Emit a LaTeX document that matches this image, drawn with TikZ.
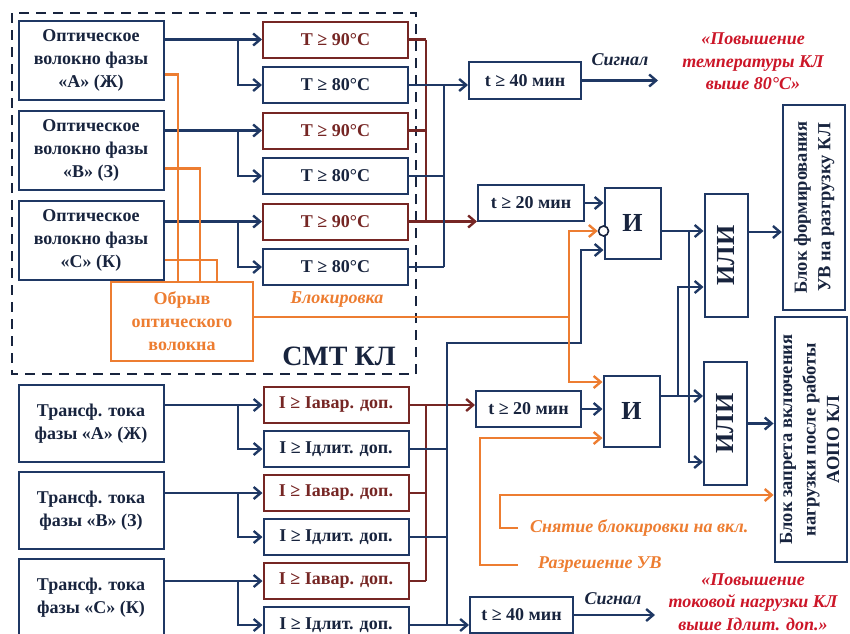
\documentclass[tikz,border=0pt]{standalone}
\usepackage{fontspec}
\setmainfont{Liberation Serif}
\usepackage{graphicx}
\usetikzlibrary{arrows.meta, positioning, calc}
\definecolor{smtNavy}{RGB}{31,56,100}
\definecolor{smtInk}{RGB}{24,36,62}
\definecolor{smtMaroon}{RGB}{118,38,36}
\definecolor{smtOrange}{RGB}{237,125,49}
\definecolor{smtRed}{RGB}{204,22,40}

\begin{document}
\begin{tikzpicture}[x=1pt, y=-1pt,
box/.style={rectangle, draw=smtNavy, line width=2pt, fill=white, text=smtInk,
  align=center, inner sep=1pt, font=\bfseries\fontsize{18}{23}\selectfont},
sensor/.style={box, minimum width=145pt, minimum height=79pt},
relay/.style={box, minimum width=145pt, minimum height=36pt},
hot/.style={draw=smtMaroon, text=smtMaroon},
timer/.style={box, minimum height=36.5pt},
gate/.style={box, minimum width=56pt, minimum height=71pt,
  font=\bfseries\fontsize{26}{30}\selectfont},
orgate/.style={box, minimum width=43pt, minimum height=123pt,
  font=\bfseries\fontsize{26}{30}\selectfont},
unit/.style={box, line width=2.4pt, font=\bfseries\fontsize{18.5}{23.5}\selectfont},
note/.style={font=\bfseries\itshape\fontsize{18}{22.5}\selectfont, align=center, inner sep=0pt},
arrow/.style={-{Straight Barb[length=7pt,width=12pt]}, line width=2.4pt, color=smtNavy},
arrowR/.style={arrow, color=smtMaroon},
arrowO/.style={arrow, color=smtOrange},
wire/.style={line width=2.4pt, color=smtNavy},
wireR/.style={wire, color=smtMaroon},
wireO/.style={wire, color=smtOrange}]
\useasboundingbox (0,0) rectangle (850,633);
\draw[smtInk, line width=2.6pt, dash pattern=on 10pt off 7pt] (12,13) rectangle (416,374);
\node[font=\bfseries\fontsize{28}{30}\selectfont, text=smtInk] (smt) at (339,356) {СМТ КЛ};

\node[sensor] (fibA) at (91,60.5) {Оптическое\\волокно фазы\\«А» (Ж)};
\node[sensor, below=9pt of fibA] (fibB) {Оптическое\\волокно фазы\\«В» (З)};
\node[sensor, below=9pt of fibB] (fibC) {Оптическое\\волокно фазы\\«С» (К)};
\node[box, draw=smtOrange, text=smtOrange, minimum width=142pt, minimum height=79pt]
  (cut) at (182,321.5) {Обрыв\\оптического\\волокна};

\node[relay, hot] (t90a) at (335.5,39.5) {T ≥ 90°C};
\node[relay, below=7.5pt of t90a] (t80a) {T ≥ 80°C};
\node[relay, hot, below=7.5pt of t80a] (t90b) {T ≥ 90°C};
\node[relay, below=7.5pt of t90b] (t80b) {T ≥ 80°C};
\node[relay, hot, below=7.5pt of t80b] (t90c) {T ≥ 90°C};
\node[relay, below=7.5pt of t90c] (t80c) {T ≥ 80°C};

\node[sensor, minimum height=77pt] (ctA) at (91,423.5) {Трансф. тока\\фазы «А» (Ж)};
\node[sensor, minimum height=77pt, below=8pt of ctA] (ctB) {Трансф. тока\\фазы «В» (З)};
\node[sensor, minimum height=77pt, below=8pt of ctB] (ctC) {Трансф. тока\\фазы «С» (К)};

\node[relay, hot] (iavA) at (336,405) {I ≥ Iавар. доп.};
\node[relay, below=6pt of iavA] (idlA) {I ≥ Iдлит. доп.};
\node[relay, hot, below=6pt of idlA] (iavB) {I ≥ Iавар. доп.};
\node[relay, below=6pt of iavB] (idlB) {I ≥ Iдлит. доп.};
\node[relay, hot, below=6pt of idlB] (iavC) {I ≥ Iавар. доп.};
\node[relay, below=6pt of iavC] (idlC) {I ≥ Iдлит. доп.};

\node[timer, minimum width=112pt] (t40a) at (525,80.5) {t ≥ 40 мин};
\node[timer, minimum width=106pt] (t20a) at (531,203) {t ≥ 20 мин};
\node[timer, minimum width=105pt] (t20b) at (528.5,409) {t ≥ 20 мин};
\node[timer, minimum width=103pt] (t40b) at (521.5,615) {t ≥ 40 мин};

\node[gate] (and1) at (632.5,223) {И};
\node[gate] (and2) at (631.5,411) {И};
\node[orgate] (or1) at (726,255.5) {\rotatebox{90}{ИЛИ}};
\node[orgate] (or2) at (725.5,423.5) {\rotatebox{90}{ИЛИ}};
\node[unit, minimum width=62pt, minimum height=205pt] (form) at (814,207.5)
  {\rotatebox{90}{\begin{tabular}{@{}c@{}}Блок формирования\\УВ на разгрузку КЛ\end{tabular}}};
\node[unit, minimum width=72pt, minimum height=245pt] (ban) at (811,439.5)
  {\rotatebox{90}{\begin{tabular}{@{}c@{}}Блок запрета включения\\нагрузки после работы\\АОПО КЛ\end{tabular}}};

\node[note, text=smtInk] (sigA) at (620,60) {Сигнал};
\node[note, text=smtInk] (sigB) at (613,599) {Сигнал};
\node[note, text=smtRed] (hotT) at (753,61.5) {«Повышение\\температуры КЛ\\выше 80°С»};
\node[note, text=smtRed] (hotI) at (753,602) {«Повышение\\токовой нагрузки КЛ\\выше Iдлит. доп.»};
\node[note, text=smtOrange] (lock) at (337,300) {Блокировка};
\node[note, text=smtOrange, anchor=west, inner xsep=12pt] (unlock) at (518,528) {Снятие блокировки на вкл.};
\node[note, text=smtOrange, anchor=west, inner xsep=20pt] (permit) at (518,565) {Разрешение УВ};

\coordinate (split) at (238,0);
\coordinate (busH) at (426,0);
\coordinate (busL) at (444,0);
\coordinate (busI) at (447,343);
\coordinate (jog) at (581,343);
\coordinate (blk) at (569,317);
\coordinate (splitA) at (689,0);
\coordinate (splitB) at (678,0);
\coordinate (freeUp) at (500,495);
\coordinate (freeDn) at (480,438);
\coordinate (outT) at (658,80.5);
\coordinate (outI) at (655,615);

\foreach \src/\hi/\lo in {fibA/t90a/t80a, fibB/t90b/t80b, fibC/t90c/t80c,
    ctA/iavA/idlA, ctB/iavB/idlB, ctC/iavC/idlC}{
  \draw[arrow] (\src.east |- \hi) -- (\hi);
  \draw[arrow] (split |- \hi) |- (\lo);
}

\foreach \hi in {t90a, t90b, iavB, iavC}
  \draw[wireR] (\hi.east) -- (\hi.east -| busH);
\draw[wireR] (busH |- t90a) -- (busH |- t90c);
\draw[wireR] (busH |- iavA) -- (busH |- iavC);
\draw[arrowR] (t90c.east) -- (t90c -| t20a.west);
\draw[arrowR] (iavA.east) -- (iavA -| t20b.west);

\foreach \lo in {t80b, t80c}
  \draw[wire] (\lo.east) -- (\lo.east -| busL);
\draw[wire] (busL |- t80a) -- (busL |- t80c);
\draw[arrow] (t80a.east) -- (t80a -| t40a.west);
\draw[arrow] (t40a.east) -- (outT);

\foreach \lo in {idlA, idlB}
  \draw[wire] (\lo.east) -- (\lo.east -| busI);
\draw[arrow] (idlC.east) -- (idlC -| t40b.west);
\draw[arrow] (t40b.east) -- (outI);
\draw[arrow] (busI |- idlC) -- (busI) -- (jog) |- ($(and1.west)+(0,27)$);

\draw[wireO] ($(fibA.east)+(0,14)$) -| ([xshift=-4pt]cut.north);
\draw[wireO] ($(fibB.east)+(0,18)$) -| ([xshift=18pt]cut.north);
\draw[wireO] ($(fibC.east)+(0,19.5)$) -| ([xshift=35pt]cut.north);
\draw[wireO] (cut.east |- blk) -- (blk);
\node[circle, draw=smtInk, fill=white, line width=1.6pt, inner sep=0pt, minimum size=10pt]
  (neg) at ($(and1.west)+(0,8)$) {};
\draw[arrowO] (blk) |- (neg.west);
\draw[arrowO] (blk) |- ($(and2.west)+(0,-29)$);
\draw[arrowO] (unlock.west) -| (freeUp) -- (freeUp -| ban.west);
\draw[arrowO] (permit.west) -| (freeDn) -- (freeDn -| and2.west);

\draw[arrow] (t20a.east) -- (t20a.east -| and1.west);
\draw[arrow] (t20b.east) -- (t20b.east -| and2.west);
\draw[arrow] ($(and1.east)+(0,8)$) -- ($(or1.west)+(0,-24.5)$);
\draw[arrow] (splitA |- or1.west) ++(0,-24.5) |- ($(or2.west)+(0,38.5)$);
\draw[arrow] ($(and2.east)+(0,-15)$) -- ($(or2.west)+(0,-27.5)$);
\draw[arrow] (splitB |- or2.west) ++(0,-27.5) |- ($(or1.west)+(0,31.5)$);
\draw[arrow] ($(or1.east)+(0,-23.5)$) -- ($(form.west)+(0,24.5)$);
\draw[arrow] (or2.east) -- (or2.east -| ban.west);
\end{tikzpicture}
\end{document}
